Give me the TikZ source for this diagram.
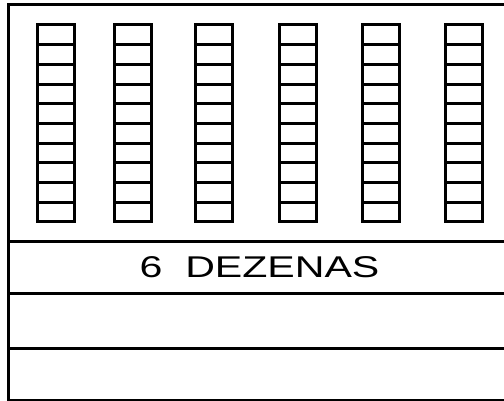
\documentclass[tikz,border=0pt]{standalone}
\usepackage{fontspec}
\setmainfont{Liberation Sans}
\begin{document}
\begin{tikzpicture}[
  x=1pt, y=-1pt,
  line/.style={line width=3pt, draw=black},
  cell/.style={line width=3pt, draw=black},
  label/.style={font=\fontsize{30}{30}\selectfont, xscale=1.37, inner sep=0pt, anchor=base}
]
\useasboundingbox (0,0) rectangle (504,401);

% ===================== Frame and rows =====================
\coordinate (tl) at (8,5);
\coordinate (br) at (510,400);
\coordinate (r1l) at (8,242);   \coordinate (r1r) at (510,242);
\coordinate (r2l) at (8,293);   \coordinate (r2r) at (510,293);
\coordinate (r3l) at (8,348);   \coordinate (r3r) at (510,348);

\draw[line] (tl) rectangle (br);
\draw[line] (r1l)--(r1r);
\draw[line] (r2l)--(r2r);
\draw[line] (r3l)--(r3r);

% ===================== Columns of ten =====================
\foreach \cx in {37,114,195,279,362,445}{
  \draw[cell] (\cx,25) rectangle (\cx+37,222);
  \foreach \k in {1,...,9}{
    \pgfmathsetmacro{\cy}{25+19.7*\k}
    \draw[cell] (\cx,\cy) -- (\cx+37,\cy);
  }
}

% Label
\node[label] (dez) at (259.5,277) {6~~DEZENAS};

\end{tikzpicture}
\end{document}
